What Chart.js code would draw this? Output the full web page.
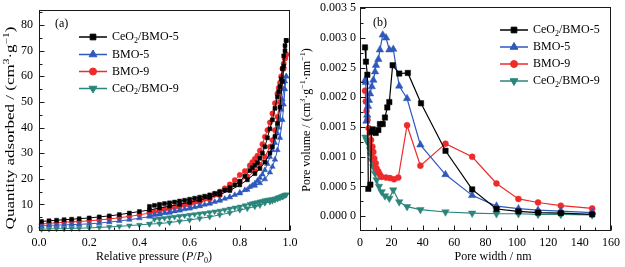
<!DOCTYPE html>
<html><head><meta charset="utf-8">
<script src="https://cdn.jsdelivr.net/npm/chart.js@4/dist/chart.umd.min.js"></script>
<style>
html,body{margin:0;padding:0;background:#fff;width:625px;height:267px;overflow:hidden}
canvas{position:absolute;top:0}
#ca{left:0}
#cb{left:300px}
</style></head><body>
<canvas id="ca" width="300" height="267"></canvas>
<canvas id="cb" width="325" height="267"></canvas>
<script>
// ---------- series names & colours ----------
const seriesNames = ['CeO_2/BMO-5', 'BMO-5', 'BMO-9', 'CeO_2/BMO-9'];
const seriesColors = ['#000000', '#2F58BC', '#EE2A2A', '#2A857A'];
const seriesStyles = ['rect', 'triangle', 'circle', 'triangle'];
const seriesRot = [0, 0, 0, 180];

// ---------- (a) N2 isotherms ----------
const pAds = [0.01,0.04,0.07,0.10,0.13,0.16,0.20,0.24,0.28,0.32,0.36,0.40,0.44,0.48,0.52,0.56,0.60,0.64,0.68,0.72,0.76,0.80,0.83,0.86,0.88,0.90,0.92,0.93,0.94,0.95,0.96,0.97,0.975,0.98,0.985];
const adsCeBMO5 = [3.3,3.6,3.8,4.0,4.2,4.4,4.7,5.1,5.5,6.0,6.6,7.2,7.8,8.6,9.3,10.0,10.8,11.7,12.7,13.9,15.4,17.6,19.6,22.0,24.0,26.5,30.0,32.5,36.5,41.6,48.0,58.0,64.0,70.0,74.0];
const adsBMO5 = [1.6,1.8,1.9,2.0,2.1,2.2,2.4,2.7,3.1,3.5,4.0,4.6,5.2,6.1,6.8,7.6,8.4,9.3,10.3,11.5,12.8,14.3,15.7,17.3,18.3,19.8,22.5,24.7,27.5,31.2,36.0,43.0,49.0,55.0,60.0];
const adsBMO9 = [2.3,2.6,2.8,3.0,3.2,3.3,3.6,3.9,4.3,4.8,5.3,5.9,6.6,7.4,8.3,9.0,9.8,10.8,12.0,13.6,15.8,18.9,20.8,23.0,25.5,28.6,32.5,35.1,39.0,44.2,50.0,58.0,63.0,67.0,68.5];
const adsCeBMO9 = [0.3,0.4,0.5,0.5,0.6,0.7,0.8,1.0,1.2,1.4,1.7,2.0,2.3,2.5,2.9,3.4,3.9,4.5,5.1,5.9,6.7,7.8,8.4,9.1,9.6,10.5,11.0,11.3,11.7,12.1,12.5,12.9,13.2,13.5,13.8];
const pDes = [0.985,0.98,0.975,0.97,0.965,0.96,0.955,0.95,0.94,0.93,0.92,0.91,0.90,0.89,0.88,0.87,0.86,0.85,0.84,0.82,0.80,0.78,0.76,0.74,0.72,0.70,0.68,0.66,0.64,0.62,0.60,0.58,0.56,0.54,0.52,0.50,0.48,0.46,0.44];
const desCeBMO5 = [74,72,68,63,59,56,54,52,47.5,43,39.5,36,32.5,30,28,26.3,25.2,24.3,23.2,21,19,17.6,16.5,15.6,14.9,14.3,13.7,13.2,12.8,12.4,12.0,11.6,11.3,10.9,10.6,10.3,10.0,9.6,9.2];
const desBMO5 = [60,58,55,51,47,43,40,37.7,34,31.2,28.5,25.8,23.4,21.7,20.3,19.2,18.2,17.4,16.8,15.6,14.6,13.7,12.9,12.2,11.6,11.0,10.4,9.9,9.4,8.9,8.5,8.1,7.7,7.3,6.9,6.6,6.2,5.9,5.6];
const desBMO9 = [68.5,67,65,63,60,57.5,55.5,53.3,49.5,45.5,42,39,36.4,33.5,31,29,27.8,26.5,25.2,23,21.5,19.5,17.8,16.3,15,13.9,13,12.2,11.5,10.9,10.3,9.8,9.3,8.9,8.5,8.1,7.7,7.2,6.8];
const desCeBMO9 = [13.8,13.7,13.5,13.3,13.1,12.9,12.7,12.6,12.3,12.1,11.9,11.8,11.6,11.3,11.1,10.8,10.6,10.4,10.1,9.6,9.1,8.7,8.3,7.9,7.5,7.2,6.9,6.6,6.4,6.1,5.9,5.6,5.4,5.1,4.9,4.6,4.4,4.2,2.4];

const xTicksA = [0,0.2,0.4,0.6,0.8,1.0];
const xLabelsA = ['0.0','0.2','0.4','0.6','0.8','1.0'];
const xMinorA = [0.1,0.3,0.5,0.7,0.9];
const yTicksA = [0,10,20,30,40,50,60,70,80];
const yLabelsA = ['0','10','20','30','40','50','60','70','80'];
const yMinorA = [5,15,25,35,45,55,65,75,85];

// ---------- (b) pore size distribution ----------
const wCeBMO5 = [3.2,3.8,4.7,5.3,6.6,7.4,8.1,10,11.7,12.7,14.5,15.9,17.4,18.7,20.8,25,30.5,38.9,54.5,71.5,87,101,113.5,128,148];
const vCeBMO5 = [0.00284,0.0026,0.00238,0.00046,0.00053,0.00142,0.00146,0.0014,0.00145,0.00155,0.00155,0.00166,0.00183,0.00192,0.00254,0.0024,0.00241,0.0019,0.0011,0.00045,0.00012,0.00008,0.00006,0.00005,0.00003];
const wBMO5 = [3.3,3.7,4.1,4.6,5.1,5.7,6.4,7.5,8.5,9.6,10.2,11.7,12.7,14.5,16.6,18.7,21.2,25,30,38.5,54.5,71.5,87,101,113.5,128,148];
const vBMO5 = [0.00229,0.00225,0.0016,0.0017,0.00185,0.00195,0.00206,0.00218,0.00229,0.00243,0.00254,0.00264,0.0028,0.00305,0.003,0.0028,0.00281,0.00219,0.00198,0.0012,0.0007,0.00035,0.00017,0.000125,0.0001,0.000085,0.00006];
const wBMO9 = [3.2,3.7,4.2,4.8,5.5,6.2,7.0,7.9,8.5,9.1,10,10.6,11.7,12.7,13.8,16.6,19.1,21.7,24.4,30,38.5,54.5,71.5,87,101,113.5,128,148];
const vBMO9 = [0.00211,0.00193,0.00177,0.00162,0.00148,0.0014,0.00128,0.00117,0.00108,0.00097,0.00089,0.0008,0.00075,0.0007,0.00066,0.00065,0.00064,0.00062,0.00065,0.00153,0.00085,0.00122,0.001,0.00055,0.00029,0.00023,0.000176,0.00013];
const wCeBMO9 = [3.5,4.3,5.3,6.4,7.0,7.4,8.5,9.6,10.6,12.1,13.8,15.9,18.7,21.2,25,30,38.5,54.5,71.5,87,101,113.5,128,148];
const vCeBMO9 = [0.00133,0.00128,0.00122,0.00112,0.00103,0.00094,0.00083,0.00072,0.00061,0.0005,0.00041,0.00034,0.0003,0.00044,0.00024,0.00016,0.00011,0.00007,0.00005,0.00004,0.00004,0.00003,0.00003,0.00002];

const xTicksB = [0,20,40,60,80,100,120,140,160];
const xLabelsB = ['0','20','40','60','80','100','120','140','160'];
const xMinorB = [10,30,50,70,90,110,130,150];
const yTicksB = [0,0.0005,0.001,0.0015,0.002,0.0025,0.003,0.0035];
const yLabelsB = ['0.000 0','0.000 5','0.001 0','0.001 5','0.002 0','0.002 5','0.003 0','0.003 5'];
const yMinorB = [0.00025,0.00075,0.00125,0.00175,0.00225,0.00275,0.00325];

// ---------- text ----------
const xTitleA = [['Relative pressure (',''],['P','i'],['/',''],['P','i'],['0','sub'],[')','']];
const yTitleA = [['Quantity adsorbed / (cm',''],['3','sup'],['\u00B7g',''],['\u22121','sup'],[')','']];
const xTitleB = [['Pore width / nm','']];
const yTitleB = [['Pore volume / (cm',''],['3','sup'],['\u00B7g',''],['\u22121','sup'],['\u00B7nm',''],['\u22121','sup'],[')','']];

const FAMILY = '"Liberation Serif", "Times New Roman", serif';
Chart.defaults.color = '#000';
Chart.defaults.font.family = FAMILY;
Chart.defaults.font.size = 12;

function parseLabel(s) {
  const i = s.indexOf('_');
  if (i < 0) return [[s, '']];
  return [[s.slice(0, i), ''], [s[i + 1], 'sub'], [s.slice(i + 2), '']];
}
function segFont(s, size) {
  const small = s[1] === 'sub' || s[1] === 'sup';
  return (s[1] === 'i' ? 'italic ' : '') + (small ? Math.round(size * 0.68) : size) + 'px ' + FAMILY;
}
function richText(ctx, segs, x, y, align, size) {
  let total = 0;
  segs.forEach(s => { ctx.font = segFont(s, size); total += ctx.measureText(s[0]).width; });
  let cx = align === 'center' ? x - total / 2 : x;
  ctx.textBaseline = 'middle';
  ctx.textAlign = 'left';
  segs.forEach(s => {
    ctx.font = segFont(s, size);
    const dy = s[1] === 'sub' ? size * 0.32 : (s[1] === 'sup' ? -size * 0.3 : 0);
    ctx.fillText(s[0], cx, y + dy);
    cx += ctx.measureText(s[0]).width;
  });
}

const deco = {
  id: 'deco',
  afterDraw(chart, args, o) {
    const ctx = chart.ctx, a = chart.chartArea, xs = chart.scales.x, ys = chart.scales.y;
    ctx.save();
    ctx.strokeStyle = '#1a1a1a';
    ctx.lineWidth = 1;
    ctx.strokeRect(Math.round(a.left) + 0.5, Math.round(a.top) + 0.5, Math.round(a.right - a.left) - 1, Math.round(a.bottom - a.top) - 1);
    ctx.beginPath();
    const bx = Math.round(a.bottom) - 0.5, lx = Math.round(a.left) + 0.5;
    o.xMajor.forEach(v => { const p = Math.round(xs.getPixelForValue(v)) + 0.5; ctx.moveTo(p, bx); ctx.lineTo(p, bx - 5); });
    o.xMinor.forEach(v => { const p = Math.round(xs.getPixelForValue(v)) + 0.5; ctx.moveTo(p, bx); ctx.lineTo(p, bx - 3); });
    o.yMajor.forEach(v => { const p = Math.round(ys.getPixelForValue(v)) + 0.5; ctx.moveTo(lx, p); ctx.lineTo(lx + 5, p); });
    o.yMinor.forEach(v => { const p = ys.getPixelForValue(v); if (p < a.top + 2) return; const q = Math.round(p) + 0.5; ctx.moveTo(lx, q); ctx.lineTo(lx + 3, q); });
    ctx.stroke();
    ctx.fillStyle = '#000';
    // titles
    richText(ctx, o.xTitle.segs, o.xTitle.x, o.xTitle.y, 'center', 12);
    ctx.save();
    ctx.translate(o.yTitle.x, o.yTitle.y);
    ctx.rotate(-Math.PI / 2);
    ctx.scale(o.yTitle.stretch || 1, 1);
    richText(ctx, o.yTitle.segs, 0, 0, 'center', 12);
    ctx.restore();
    // panel label
    ctx.font = '12px ' + FAMILY;
    ctx.textBaseline = 'middle'; ctx.textAlign = 'left';
    ctx.fillText(o.panel.text, o.panel.x, o.panel.y);
    // legend
    const L = o.legend;
    chart.data.datasets.forEach((ds, i) => {
      const y = L.rows[i];
      ctx.strokeStyle = ds.borderColor;
      ctx.lineWidth = 1.5;
      ctx.beginPath(); ctx.moveTo(L.x1, y); ctx.lineTo(L.x2, y); ctx.stroke();
      ctx.fillStyle = ds.backgroundColor;
      ctx.strokeStyle = ds.borderColor;
      ctx.lineWidth = 1;
      Chart.helpers.drawPoint(ctx, { pointStyle: ds.pointStyle, rotation: ds.pointRotation || 0, radius: L.r[i], borderWidth: 1 }, (L.x1 + L.x2) / 2, y);
      ctx.fillStyle = '#000';
      richText(ctx, parseLabel(seriesNames[i]), L.xt, y, 'left', 12);
    });
    ctx.restore();
  }
};

function makeScale(min, max, ticks, labels, fitKey, fitVal, pad) {
  return {
    type: 'linear', min: min, max: max,
    grid: { display: false, drawTicks: false },
    border: { display: false },
    afterBuildTicks: s => { s.ticks = ticks.map(v => ({ value: v })); },
    afterFit: s => { s[fitKey] = fitVal; s.paddingTop = 0; s.paddingBottom = 0; s.paddingLeft = 0; s.paddingRight = 0; },
    ticks: { padding: pad, autoSkip: false, maxRotation: 0, color: '#000', font: { family: FAMILY, size: 12 },
             callback: (v, i) => labels[i] }
  };
}

function iso(i, ads, des, r) {
  const pts = pAds.map((p, k) => ({ x: p, y: ads[k] })).concat(pDes.map((p, k) => ({ x: p, y: des[k] })));
  return { label: seriesNames[i], data: pts, showLine: true, borderColor: seriesColors[i], backgroundColor: seriesColors[i],
           borderWidth: 1, pointStyle: seriesStyles[i], pointRotation: seriesRot[i], pointRadius: r, pointBorderWidth: 0.5, clip: false };
}
function psd(i, w, v, r) {
  return { label: seriesNames[i], data: w.map((x, k) => ({ x: x, y: v[k] })), showLine: true, borderColor: seriesColors[i], backgroundColor: seriesColors[i],
           borderWidth: 1.2, pointStyle: seriesStyles[i], pointRotation: seriesRot[i], pointRadius: r, pointBorderWidth: 0.5, clip: false };
}

new Chart(document.getElementById('ca'), {
  type: 'scatter',
  data: { datasets: [iso(0, adsCeBMO5, desCeBMO5, 2.8), iso(1, adsBMO5, desBMO5, 3.2), iso(2, adsBMO9, desBMO9, 2.6), iso(3, adsCeBMO9, desCeBMO9, 3.2)] },
  options: {
    responsive: false, animation: false, devicePixelRatio: 1, events: [],
    layout: { padding: { top: 10, right: 10, left: 0, bottom: 0 } },
    plugins: {
      legend: { display: false }, tooltip: { enabled: false },
      deco: {
        xMajor: xTicksA, xMinor: xMinorA, yMajor: yTicksA, yMinor: yMinorA,
        xTitle: { segs: xTitleA, x: 154, y: 257 },
        yTitle: { segs: yTitleA, x: 11, y: 128, stretch: 1.42 },
        panel: { text: '(a)', x: 55, y: 24 },
        legend: { x1: 79, x2: 107, xt: 112, rows: [37, 54.5, 71.5, 88.5], r: [4, 4.5, 3.5, 4.5] }
      }
    },
    scales: {
      x: makeScale(0, 1, xTicksA, xLabelsA, 'height', 36, 5),
      y: makeScale(-0.4, 85.9, yTicksA, yLabelsA, 'width', 39, 6)
    }
  },
  plugins: [deco]
});

new Chart(document.getElementById('cb'), {
  type: 'scatter',
  data: { datasets: [psd(0, wCeBMO5, vCeBMO5, 3.8), psd(1, wBMO5, vBMO5, 4.3), psd(2, wBMO9, vBMO9, 3), psd(3, wCeBMO9, vCeBMO9, 4.3)] },
  options: {
    responsive: false, animation: false, devicePixelRatio: 1, events: [],
    layout: { padding: { top: 7, right: 14, left: 0, bottom: 0 } },
    plugins: {
      legend: { display: false }, tooltip: { enabled: false },
      deco: {
        xMajor: xTicksB, xMinor: xMinorB, yMajor: yTicksB, yMinor: yMinorB,
        xTitle: { segs: xTitleB, x: 193, y: 257 },
        yTitle: { segs: yTitleB, x: 6.5, y: 120, stretch: 1 },
        panel: { text: '(b)', x: 73, y: 23 },
        legend: { x1: 200, x2: 228, xt: 233, rows: [30, 47, 64, 81], r: [4, 4.5, 3.5, 4.5] }
      }
    },
    scales: {
      x: makeScale(0, 160, xTicksB, xLabelsB, 'height', 36, 5),
      y: makeScale(-0.00025, 0.00352, yTicksB, yLabelsB, 'width', 60, 4)
    }
  },
  plugins: [deco]
});
</script>
</body></html>
